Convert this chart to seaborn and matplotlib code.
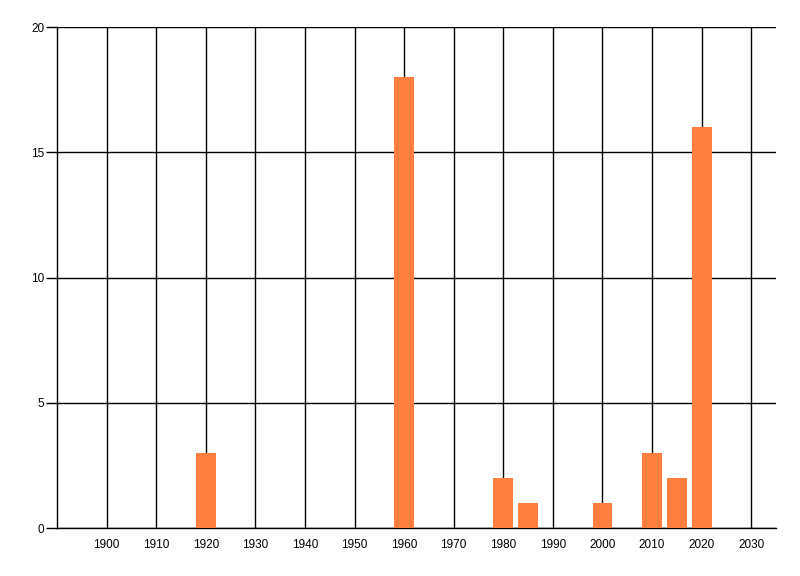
import matplotlib
matplotlib.use("Agg")
import matplotlib.pyplot as plt
import seaborn as sns
import pandas as pd

years = [1920, 1960, 1980, 1985, 2000, 2010, 2015, 2020]
counts = [3, 18, 2, 1, 1, 3, 2, 16]
x_ticks = list(range(1900, 2031, 10))
y_ticks = [0, 5, 10, 15, 20]

sns.set_theme(style="white")
plt.rcParams['font.family'] = ['Liberation Sans', 'DejaVu Sans']

df = pd.DataFrame({"year": years, "count": counts})

fig = plt.figure(figsize=(8, 5.76), dpi=100)
ax = fig.add_axes([0.07125, 0.0833, 0.89875, 0.8697])

sns.barplot(data=df, x="year", y="count", native_scale=True, width=0.8,
            color="#FF7F41", saturation=1, linewidth=0, edgecolor="none",
            ax=ax, zorder=3)

ax.set_xlim(1890, 2035)
ax.set_ylim(0, 20)
ax.set_xticks(x_ticks)
ax.set_xticklabels([str(t) for t in x_ticks])
ax.set_yticks(y_ticks)
ax.set_yticklabels([str(t) for t in y_ticks])
ax.grid(True, color="black", linewidth=1.0, zorder=0)
ax.set_axisbelow(True)
for s in ["top", "right"]:
    ax.spines[s].set_visible(False)
for s in ["left", "bottom"]:
    ax.spines[s].set_color("black")
    ax.spines[s].set_linewidth(1.0)
ax.tick_params(axis="y", length=8, width=1.0, color="black", labelcolor="black",
               labelsize=8.5, pad=1, left=True)
ax.tick_params(axis="x", length=0, labelsize=8.5, labelcolor="black", pad=8)
ax.set_xlabel("")
ax.set_ylabel("")

fig.savefig("out.png", dpi=100)
